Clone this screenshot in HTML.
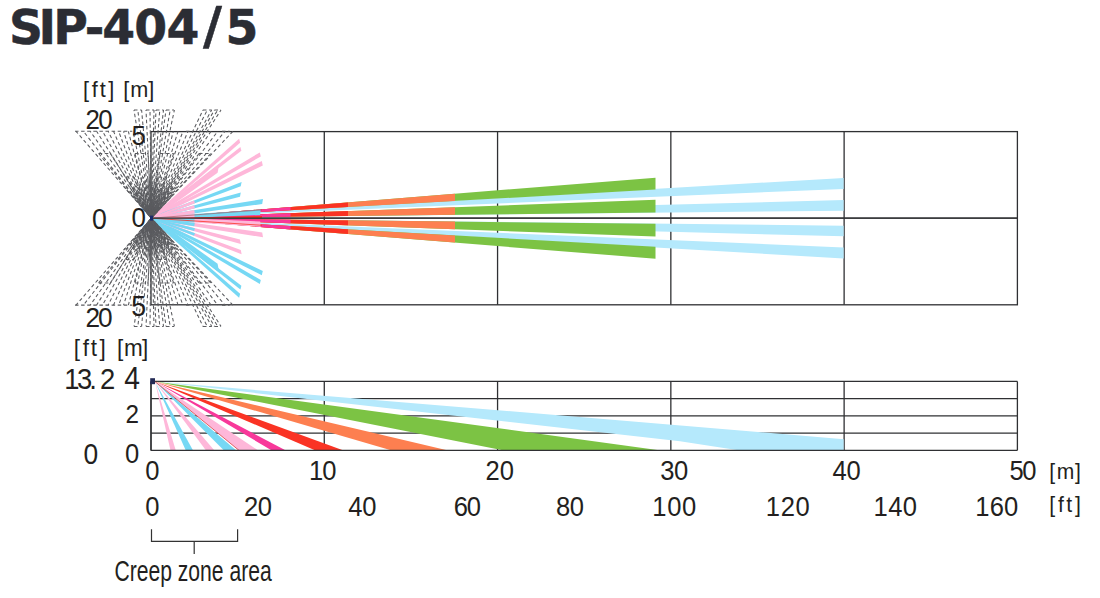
<!DOCTYPE html>
<html><head><meta charset="utf-8"><title>SIP-404/5</title>
<style>html,body{margin:0;padding:0;background:#fff;width:1100px;height:598px;overflow:hidden}</style>
</head><body>
<svg width="1100" height="598" viewBox="0 0 1100 598" style="display:block;font-family:'Liberation Sans', Arial, sans-serif">
<rect width="1100" height="598" fill="#ffffff"/>
<g stroke="#2f3033" stroke-width="1.3" fill="none">
<rect x="151" y="131.6" width="866.4" height="173.2"/>
<line x1="324.28" y1="131.6" x2="324.28" y2="304.8"/>
<line x1="497.56" y1="131.6" x2="497.56" y2="304.8"/>
<line x1="670.84" y1="131.6" x2="670.84" y2="304.8"/>
<line x1="844.12" y1="131.6" x2="844.12" y2="304.8"/>
<line x1="151" y1="218.2" x2="1017.4" y2="218.2"/>
</g>
<polygon points="151.3,218.2 843.6,177.91 843.6,188.92 151.3,218.2" fill="#b5e9fc"/>
<polygon points="151.3,218.2 843.6,200.06 843.6,210.72 151.3,218.2" fill="#b5e9fc"/>
<polygon points="151.3,218.2 843.6,225.68 843.6,236.34 151.3,218.2" fill="#b5e9fc"/>
<polygon points="151.3,218.2 843.6,247.48 843.6,258.49 151.3,218.2" fill="#b5e9fc"/>
<polygon points="151.3,218.2 655.5,177.66 655.5,189.56 151.3,218.2" fill="#7cc344"/>
<polygon points="151.3,218.2 655.5,199.85 655.5,212.6 151.3,218.2" fill="#7cc344"/>
<polygon points="151.3,218.2 655.5,223.8 655.5,236.55 151.3,218.2" fill="#7cc344"/>
<polygon points="151.3,218.2 655.5,246.84 655.5,258.74 151.3,218.2" fill="#7cc344"/>
<polygon points="151.3,218.2 455,193.78 455,200.95 151.3,218.2" fill="#fd7f50"/>
<polygon points="151.3,218.2 455,207.15 455,214.83 151.3,218.2" fill="#fd7f50"/>
<polygon points="151.3,218.2 455,221.57 455,229.25 151.3,218.2" fill="#fd7f50"/>
<polygon points="151.3,218.2 455,235.45 455,242.62 151.3,218.2" fill="#fd7f50"/>
<polygon points="151.3,218.2 348,202.39 348,207.03 151.3,218.2" fill="#fa3324"/>
<polygon points="151.3,218.2 348,211.04 348,216.02 151.3,218.2" fill="#fa3324"/>
<polygon points="151.3,218.2 348,220.38 348,225.36 151.3,218.2" fill="#fa3324"/>
<polygon points="151.3,218.2 348,229.37 348,234.01 151.3,218.2" fill="#fa3324"/>
<polygon points="151.3,218.2 290.5,207.01 290.5,210.29 151.3,218.2" fill="#f8389a"/>
<polygon points="151.3,218.2 290.5,213.13 290.5,216.65 151.3,218.2" fill="#f8389a"/>
<polygon points="151.3,218.2 290.5,219.75 290.5,223.27 151.3,218.2" fill="#f8389a"/>
<polygon points="151.3,218.2 290.5,226.11 290.5,229.39 151.3,218.2" fill="#f8389a"/>
<polygon points="151.11,216.91 263,199.1 262.2,204 151.49,219.49" fill="#76d8f4"/>
<polygon points="151.49,216.91 262.2,232.4 263,237.3 151.11,219.49" fill="#feb7d9"/>
<polygon points="150.78,217.14 261.8,161.1 262.8,165.4 151.82,219.26" fill="#feb7d9"/>
<polygon points="151.82,217.14 262.8,271 261.8,275.3 150.78,219.26" fill="#76d8f4"/>
<polygon points="151.22,216.75 260.6,209.6 260.2,214.9 151.38,219.65" fill="#76d8f4"/>
<polygon points="151.38,216.75 260.2,221.5 260.6,226.8 151.22,219.65" fill="#feb7d9"/>
<polygon points="150.75,217.26 259.8,152.4 260.8,156.4 151.85,219.14" fill="#feb7d9"/>
<polygon points="151.85,217.26 260.8,280 259.8,284 150.75,219.14" fill="#76d8f4"/>
<polygon points="150.95,217.26 241.6,182.1 240.8,186.3 151.65,219.14" fill="#76d8f4"/>
<polygon points="151.65,217.26 240.8,250.1 241.6,254.3 150.95,219.14" fill="#feb7d9"/>
<polygon points="151.02,217.15 240.8,192.5 240,196.8 151.58,219.25" fill="#76d8f4"/>
<polygon points="151.58,217.15 240,239.6 240.8,243.9 151.02,219.25" fill="#feb7d9"/>
<polygon points="150.7,217.43 240.4,147 241.4,150.7 151.9,218.97" fill="#feb7d9"/>
<polygon points="151.9,217.43 241.4,285.7 240.4,289.4 150.7,218.97" fill="#76d8f4"/>
<polygon points="150.63,217.44 239.1,138.7 240.1,142.7 151.97,218.96" fill="#feb7d9"/>
<polygon points="151.97,217.44 240.1,293.7 239.1,297.7 150.63,218.96" fill="#76d8f4"/>
<polygon points="151.03,217.48 194.01,200.56 194.99,203.17 151.57,218.92" fill="#feb7d9"/>
<polygon points="151.57,217.48 194.99,233.23 194.01,235.84 151.03,218.92" fill="#76d8f4"/>
<polygon points="151.09,217.39 194.11,205.31 194.89,208.25 151.51,219.01" fill="#feb7d9"/>
<polygon points="151.51,217.39 194.89,228.15 194.11,231.09 151.09,219.01" fill="#76d8f4"/>
<polygon points="151.16,217.27 194.25,210.04 194.75,213.43 151.44,219.13" fill="#feb7d9"/>
<polygon points="151.44,217.27 194.75,222.97 194.25,226.36 151.16,219.13" fill="#76d8f4"/>
<polygon points="151.24,217.15 194.4,213.93 194.6,217.76 151.36,219.25" fill="#feb7d9"/>
<polygon points="151.36,217.15 194.6,218.64 194.4,222.47 151.24,219.25" fill="#76d8f4"/>
<polygon points="150.3,216.86 219.2,163.95 217.6,172.72 152.3,219.54" fill="#feb7d9"/>
<polygon points="152.3,216.86 217.6,263.68 219.2,272.45 150.3,219.54" fill="#76d8f4"/>
<polygon points="151.3,218.2 262,215.88 262,217.98 151.3,218.2" fill="#fa3324"/>
<line x1="151.3" y1="218.2" x2="262" y2="225.28" stroke="#fa3324" stroke-width="0.8"/>
<line x1="151.3" y1="218.2" x2="262" y2="209.9" stroke="#a05050" stroke-width="0.6"/>
<line x1="151" y1="218.2" x2="1017.4" y2="218.2" stroke="#2f3033" stroke-width="1.2"/>
<g fill="none" stroke="#5a5b5f" stroke-width="1.05" stroke-dasharray="3.5 2.6">
<path d="M232.9 131.3L151.3 218.2" stroke-dashoffset="0"/><path d="M232.9 305.1L151.3 218.2" stroke-dashoffset="0"/><path d="M225 131.3L151.3 218.2" stroke-dashoffset="1.7"/><path d="M225 305.1L151.3 218.2" stroke-dashoffset="1.7"/><path d="M217.74 131.3L151.3 218.2" stroke-dashoffset="3.4"/><path d="M217.74 305.1L151.3 218.2" stroke-dashoffset="3.4"/><path d="M211.02 131.3L151.3 218.2" stroke-dashoffset="0.1"/><path d="M211.02 305.1L151.3 218.2" stroke-dashoffset="0.1"/><path d="M188.01 131.3L151.3 218.2" stroke-dashoffset="1.8"/><path d="M188.01 305.1L151.3 218.2" stroke-dashoffset="1.8"/><path d="M182.93 131.3L151.3 218.2" stroke-dashoffset="3.5"/><path d="M182.93 305.1L151.3 218.2" stroke-dashoffset="3.5"/><path d="M178.03 131.3L151.3 218.2" stroke-dashoffset="0.2"/><path d="M178.03 305.1L151.3 218.2" stroke-dashoffset="0.2"/><path d="M173.29 131.3L151.3 218.2" stroke-dashoffset="1.9"/><path d="M173.29 305.1L151.3 218.2" stroke-dashoffset="1.9"/><path d="M132.99 131.3L151.3 218.2" stroke-dashoffset="3.6"/><path d="M132.99 305.1L151.3 218.2" stroke-dashoffset="3.6"/><path d="M128.34 131.3L151.3 218.2" stroke-dashoffset="0.3"/><path d="M128.34 305.1L151.3 218.2" stroke-dashoffset="0.3"/><path d="M123.57 131.3L151.3 218.2" stroke-dashoffset="2"/><path d="M123.57 305.1L151.3 218.2" stroke-dashoffset="2"/><path d="M118.64 131.3L151.3 218.2" stroke-dashoffset="3.7"/><path d="M118.64 305.1L151.3 218.2" stroke-dashoffset="3.7"/><path d="M113.51 131.3L151.3 218.2" stroke-dashoffset="0.4"/><path d="M113.51 305.1L151.3 218.2" stroke-dashoffset="0.4"/><path d="M108.16 131.3L151.3 218.2" stroke-dashoffset="2.1"/><path d="M108.16 305.1L151.3 218.2" stroke-dashoffset="2.1"/><path d="M102.53 131.3L151.3 218.2" stroke-dashoffset="3.8"/><path d="M102.53 305.1L151.3 218.2" stroke-dashoffset="3.8"/><path d="M96.58 131.3L151.3 218.2" stroke-dashoffset="0.5"/><path d="M96.58 305.1L151.3 218.2" stroke-dashoffset="0.5"/><path d="M90.23 131.3L151.3 218.2" stroke-dashoffset="2.2"/><path d="M90.23 305.1L151.3 218.2" stroke-dashoffset="2.2"/><path d="M83.41 131.3L151.3 218.2" stroke-dashoffset="3.9"/><path d="M83.41 305.1L151.3 218.2" stroke-dashoffset="3.9"/><path d="M76.02 131.3L151.3 218.2" stroke-dashoffset="0.6"/><path d="M76.02 305.1L151.3 218.2" stroke-dashoffset="0.6"/><path d="M134 110L151.3 218.2" stroke-dashoffset="2.3"/><path d="M134 326.4L151.3 218.2" stroke-dashoffset="2.3"/><path d="M137.8 110L151.3 218.2" stroke-dashoffset="4"/><path d="M137.8 326.4L151.3 218.2" stroke-dashoffset="4"/><path d="M141.6 110L151.3 218.2" stroke-dashoffset="0.7"/><path d="M141.6 326.4L151.3 218.2" stroke-dashoffset="0.7"/><path d="M146 110L151.3 218.2" stroke-dashoffset="2.4"/><path d="M146 326.4L151.3 218.2" stroke-dashoffset="2.4"/><path d="M150 110L151.3 218.2" stroke-dashoffset="4.1"/><path d="M150 326.4L151.3 218.2" stroke-dashoffset="4.1"/><path d="M154 110L151.3 218.2" stroke-dashoffset="0.8"/><path d="M154 326.4L151.3 218.2" stroke-dashoffset="0.8"/><path d="M156 110L151.3 218.2" stroke-dashoffset="2.5"/><path d="M156 326.4L151.3 218.2" stroke-dashoffset="2.5"/><path d="M159.75 110L151.3 218.2" stroke-dashoffset="4.2"/><path d="M159.75 326.4L151.3 218.2" stroke-dashoffset="4.2"/><path d="M163.5 110L151.3 218.2" stroke-dashoffset="0.9"/><path d="M163.5 326.4L151.3 218.2" stroke-dashoffset="0.9"/><path d="M166 110L151.3 218.2" stroke-dashoffset="2.6"/><path d="M166 326.4L151.3 218.2" stroke-dashoffset="2.6"/><path d="M170.2 110L151.3 218.2" stroke-dashoffset="4.3"/><path d="M170.2 326.4L151.3 218.2" stroke-dashoffset="4.3"/><path d="M174.4 110L151.3 218.2" stroke-dashoffset="1"/><path d="M174.4 326.4L151.3 218.2" stroke-dashoffset="1"/><path d="M203 110L151.3 218.2" stroke-dashoffset="2.7"/><path d="M203 326.4L151.3 218.2" stroke-dashoffset="2.7"/><path d="M207.3 110L151.3 218.2" stroke-dashoffset="4.4"/><path d="M207.3 326.4L151.3 218.2" stroke-dashoffset="4.4"/><path d="M211.7 110L151.3 218.2" stroke-dashoffset="1.1"/><path d="M211.7 326.4L151.3 218.2" stroke-dashoffset="1.1"/><path d="M214.5 110L151.3 218.2" stroke-dashoffset="2.8"/><path d="M214.5 326.4L151.3 218.2" stroke-dashoffset="2.8"/><path d="M217.75 110L151.3 218.2" stroke-dashoffset="4.5"/><path d="M217.75 326.4L151.3 218.2" stroke-dashoffset="4.5"/><path d="M221 110L151.3 218.2" stroke-dashoffset="1.2"/><path d="M221 326.4L151.3 218.2" stroke-dashoffset="1.2"/><path d="M171.76 196.26L151.3 218.2" stroke-dashoffset="0"/><path d="M171.76 240.14L151.3 218.2" stroke-dashoffset="0"/><path d="M174.92 191.03L151.3 218.2" stroke-dashoffset="2.3"/><path d="M174.92 245.37L151.3 218.2" stroke-dashoffset="2.3"/><path d="M177.73 185.56L151.3 218.2" stroke-dashoffset="4.6"/><path d="M177.73 250.84L151.3 218.2" stroke-dashoffset="4.6"/><path d="M171.16 191.85L151.3 218.2" stroke-dashoffset="1.9"/><path d="M171.16 244.55L151.3 218.2" stroke-dashoffset="1.9"/><path d="M173.67 186.25L151.3 218.2" stroke-dashoffset="4.2"/><path d="M173.67 250.15L151.3 218.2" stroke-dashoffset="4.2"/><path d="M167.64 193.04L151.3 218.2" stroke-dashoffset="1.5"/><path d="M167.64 243.36L151.3 218.2" stroke-dashoffset="1.5"/><path d="M169.84 187.34L151.3 218.2" stroke-dashoffset="3.8"/><path d="M169.84 249.06L151.3 218.2" stroke-dashoffset="3.8"/><path d="M171.66 181.47L151.3 218.2" stroke-dashoffset="1.1"/><path d="M171.66 254.93L151.3 218.2" stroke-dashoffset="1.1"/><path d="M166.28 188.8L151.3 218.2" stroke-dashoffset="3.4"/><path d="M166.28 247.6L151.3 218.2" stroke-dashoffset="3.4"/><path d="M167.78 182.85L151.3 218.2" stroke-dashoffset="0.7"/><path d="M167.78 253.55L151.3 218.2" stroke-dashoffset="0.7"/><path d="M163.02 190.58L151.3 218.2" stroke-dashoffset="3"/><path d="M163.02 245.82L151.3 218.2" stroke-dashoffset="3"/><path d="M164.2 184.59L151.3 218.2" stroke-dashoffset="0.3"/><path d="M164.2 251.81L151.3 218.2" stroke-dashoffset="0.3"/><path d="M164.97 178.49L151.3 218.2" stroke-dashoffset="2.6"/><path d="M164.97 257.91L151.3 218.2" stroke-dashoffset="2.6"/><path d="M160.95 186.64L151.3 218.2" stroke-dashoffset="4.9"/><path d="M160.95 249.76L151.3 218.2" stroke-dashoffset="4.9"/><path d="M161.39 180.53L151.3 218.2" stroke-dashoffset="2.2"/><path d="M161.39 255.87L151.3 218.2" stroke-dashoffset="2.2"/><path d="M158.05 188.97L151.3 218.2" stroke-dashoffset="4.5"/><path d="M158.05 247.43L151.3 218.2" stroke-dashoffset="4.5"/><path d="M158.17 182.86L151.3 218.2" stroke-dashoffset="1.8"/><path d="M158.17 253.54L151.3 218.2" stroke-dashoffset="1.8"/><path d="M157.87 176.72L151.3 218.2" stroke-dashoffset="4.1"/><path d="M157.87 259.68L151.3 218.2" stroke-dashoffset="4.1"/><path d="M155.32 185.45L151.3 218.2" stroke-dashoffset="1.4"/><path d="M155.32 250.95L151.3 218.2" stroke-dashoffset="1.4"/><path d="M154.7 179.35L151.3 218.2" stroke-dashoffset="3.7"/><path d="M154.7 257.05L151.3 218.2" stroke-dashoffset="3.7"/><path d="M152.87 188.24L151.3 218.2" stroke-dashoffset="1"/><path d="M152.87 248.16L151.3 218.2" stroke-dashoffset="1"/><path d="M151.93 182.21L151.3 218.2" stroke-dashoffset="3.3"/><path d="M151.93 254.19L151.3 218.2" stroke-dashoffset="3.3"/><path d="M150.57 176.21L151.3 218.2" stroke-dashoffset="0.6"/><path d="M150.57 260.19L151.3 218.2" stroke-dashoffset="0.6"/><path d="M149.57 185.25L151.3 218.2" stroke-dashoffset="2.9"/><path d="M149.57 251.15L151.3 218.2" stroke-dashoffset="2.9"/><path d="M147.9 179.35L151.3 218.2" stroke-dashoffset="0.2"/><path d="M147.9 257.05L151.3 218.2" stroke-dashoffset="0.2"/><path d="M147.64 188.42L151.3 218.2" stroke-dashoffset="2.5"/><path d="M147.64 247.98L151.3 218.2" stroke-dashoffset="2.5"/><path d="M145.67 182.64L151.3 218.2" stroke-dashoffset="4.8"/><path d="M145.67 253.76L151.3 218.2" stroke-dashoffset="4.8"/><path d="M143.29 176.97L151.3 218.2" stroke-dashoffset="2.1"/><path d="M143.29 259.43L151.3 218.2" stroke-dashoffset="2.1"/><path d="M143.88 186.05L151.3 218.2" stroke-dashoffset="4.4"/><path d="M143.88 250.35L151.3 218.2" stroke-dashoffset="4.4"/><path d="M141.21 180.53L151.3 218.2" stroke-dashoffset="1.7"/><path d="M141.21 255.87L151.3 218.2" stroke-dashoffset="1.7"/><path d="M142.53 189.51L151.3 218.2" stroke-dashoffset="4"/><path d="M142.53 246.89L151.3 218.2" stroke-dashoffset="4"/><path d="M139.58 184.16L151.3 218.2" stroke-dashoffset="1.3"/><path d="M139.58 252.24L151.3 218.2" stroke-dashoffset="1.3"/><path d="M136.25 178.99L151.3 218.2" stroke-dashoffset="3.6"/><path d="M136.25 257.41L151.3 218.2" stroke-dashoffset="3.6"/><path d="M138.41 187.82L151.3 218.2" stroke-dashoffset="0.9"/><path d="M138.41 248.58L151.3 218.2" stroke-dashoffset="0.9"/><path d="M134.82 182.85L151.3 218.2" stroke-dashoffset="3.2"/><path d="M134.82 253.55L151.3 218.2" stroke-dashoffset="3.2"/><path d="M137.68 191.47L151.3 218.2" stroke-dashoffset="0.5"/><path d="M137.68 244.93L151.3 218.2" stroke-dashoffset="0.5"/><path d="M133.85 186.71L151.3 218.2" stroke-dashoffset="2.8"/><path d="M133.85 249.69L151.3 218.2" stroke-dashoffset="2.8"/><path d="M129.67 182.2L151.3 218.2" stroke-dashoffset="0.1"/><path d="M129.67 254.2L151.3 218.2" stroke-dashoffset="0.1"/><path d="M133.33 190.52L151.3 218.2" stroke-dashoffset="2.4"/><path d="M133.33 245.88L151.3 218.2" stroke-dashoffset="2.4"/><path d="M128.93 186.25L151.3 218.2" stroke-dashoffset="4.7"/><path d="M128.93 250.15L151.3 218.2" stroke-dashoffset="4.7"/><path d="M133.25 194.24L151.3 218.2" stroke-dashoffset="2"/><path d="M133.25 242.16L151.3 218.2" stroke-dashoffset="2"/><path d="M128.64 190.22L151.3 218.2" stroke-dashoffset="4.3"/><path d="M128.64 246.18L151.3 218.2" stroke-dashoffset="4.3"/><path d="M123.75 186.5L151.3 218.2" stroke-dashoffset="1.6"/><path d="M123.75 249.9L151.3 218.2" stroke-dashoffset="1.6"/><path d="M98.7 153.5L151.3 218.2"/><path d="M98.7 282.9L151.3 218.2"/><path d="M110.4 153.5L151.3 218.2"/><path d="M110.4 282.9L151.3 218.2"/><path d="M135 153.5L151.3 218.2"/><path d="M135 282.9L151.3 218.2"/><path d="M148 153.5L151.3 218.2"/><path d="M148 282.9L151.3 218.2"/><path d="M160 153.5L151.3 218.2"/><path d="M160 282.9L151.3 218.2"/><path d="M173.6 153.5L151.3 218.2"/><path d="M173.6 282.9L151.3 218.2"/><path d="M199 153.5L151.3 218.2"/><path d="M199 282.9L151.3 218.2"/><path d="M210.7 153.5L151.3 218.2"/><path d="M210.7 282.9L151.3 218.2"/><path d="M126 177L151.3 218.2"/><path d="M126 259.4L151.3 218.2"/><path d="M134 177L151.3 218.2"/><path d="M134 259.4L151.3 218.2"/><path d="M158 177L151.3 218.2"/><path d="M158 259.4L151.3 218.2"/><path d="M167 177L151.3 218.2"/><path d="M167 259.4L151.3 218.2"/><path d="M134 110H141.6"/><path d="M134 326.4H141.6"/><path d="M146 110H154"/><path d="M146 326.4H154"/><path d="M156 110H163.5"/><path d="M156 326.4H163.5"/><path d="M166 110H174"/><path d="M166 326.4H174"/><path d="M203 110H211.7"/><path d="M203 326.4H211.7"/><path d="M214.5 110H221"/><path d="M214.5 326.4H221"/><path d="M75 131.3H132.3"/><path d="M75 305.1H132.3"/><path d="M186 131.3H190"/><path d="M186 305.1H190"/><path d="M222 131.3H229.6"/><path d="M222 305.1H229.6"/><path d="M98.7 153.5H110.4"/><path d="M98.7 282.9H110.4"/><path d="M135 153.5H148"/><path d="M135 282.9H148"/><path d="M160 153.5H173.6"/><path d="M160 282.9H173.6"/><path d="M199 153.5H210.7"/><path d="M199 282.9H210.7"/><path d="M126 177H134"/><path d="M126 259.4H134"/><path d="M158 177H167"/><path d="M158 259.4H167"/>
</g>
<rect x="150" y="215.6" width="3" height="5" fill="#1b2a6b"/>
<g stroke="#2f3033" stroke-width="1.3" fill="none">
<line x1="151" y1="381.4" x2="1017.4" y2="381.4"/>
<line x1="151" y1="398.65" x2="1017.4" y2="398.65"/>
<line x1="151" y1="415.9" x2="1017.4" y2="415.9"/>
<line x1="151" y1="433.15" x2="1017.4" y2="433.15"/>
<line x1="151" y1="381.4" x2="151" y2="450.4"/>
<line x1="324.28" y1="381.4" x2="324.28" y2="450.4"/>
<line x1="497.56" y1="381.4" x2="497.56" y2="450.4"/>
<line x1="670.84" y1="381.4" x2="670.84" y2="450.4"/>
<line x1="844.12" y1="381.4" x2="844.12" y2="450.4"/>
<line x1="1017.4" y1="381.4" x2="1017.4" y2="450.4"/>
</g>
<clipPath id="cb"><rect x="151" y="381.4" width="692.6" height="69"/></clipPath>
<g clip-path="url(#cb)">
<polygon points="155,381.6 978,450.4 740,450.4 680,441.3 510,422.1" fill="#b5e9fc"/>
<polygon points="155,381.6 661,450.4 504,450.4" fill="#7cc344"/>
<polygon points="155,381.6 448.2,450.4 391.8,450.4" fill="#fd7f50"/>
<polygon points="155,381.6 343.6,450.4 315.5,450.4" fill="#fa3324"/>
<polygon points="155,381.6 285.9,450.4 271.8,450.4" fill="#f8389a"/>
<polygon points="155,381.6 258.2,450.4 239,450.4" fill="#feb7d9"/>
<polygon points="155,381.6 236.4,450.4 224,450.4" fill="#76d8f4"/>
<polygon points="155,381.6 214.5,450.4 206,450.4" fill="#feb7d9"/>
<polygon points="155,381.6 193.1,450.4 185.8,450.4" fill="#76d8f4"/>
<polygon points="155,381.6 175.8,450.4 170.5,450.4" fill="#feb7d9"/>
<line x1="155" y1="381.6" x2="239" y2="450.4" stroke="#d0342c" stroke-width="0.7"/>
</g>
<line x1="151" y1="450.4" x2="1017.4" y2="450.4" stroke="#2f3033" stroke-width="1.4"/>
<line x1="151" y1="381.4" x2="151" y2="450.4" stroke="#2f3033" stroke-width="1.3"/>
<rect x="150.2" y="378.2" width="4.8" height="6" fill="#232a55"/>
<path d="M151.5 529.2V541.4H237.6V529.2M194.2 541.4V554" fill="none" stroke="#333" stroke-width="1.2"/>
<text transform="translate(0,44)" font-family="'DejaVu Sans', sans-serif" font-size="47.26" font-weight="bold" fill="#2b2d34" stroke="#2b2d34" stroke-width="0.5" stroke-linejoin="round"><tspan x="8.89 38.5 53.25 84.69 102.33 134.28 166.48">SIP-404</tspan><tspan x="202.96" font-size="52">/</tspan><tspan x="225.4">5</tspan></text>
<text transform="translate(0,96.86) scale(0.9500,1)" x="87.3 96.48 104.96 114.02" font-size="22.84" fill="#231f20">[ft]</text>
<text transform="translate(0,96.86) scale(0.9500,1)" x="129.82 137.21 156.03" font-size="22.84" fill="#231f20">[m]</text>
<text transform="translate(0,129.42) scale(0.9200,1)" x="92.85 106.72" font-size="28.13" fill="#231f20">20</text>
<text transform="translate(0,144.82) scale(0.9200,1)" x="142.96" font-size="28.1" fill="#231f20">5</text>
<text transform="translate(0,229.21) scale(0.9200,1)" x="99.91" font-size="28.98" fill="#231f20">0</text>
<text transform="translate(0,227.02) scale(0.9200,1)" x="143.04" font-size="28.27" fill="#231f20">0</text>
<text transform="translate(0,315.51) scale(0.9200,1)" x="142.74" font-size="29.1" fill="#231f20">5</text>
<text transform="translate(0,327.41) scale(0.9200,1)" x="93.06 106.5" font-size="28.55" fill="#231f20">20</text>
<text transform="translate(0,355.88) scale(0.9500,1)" x="77.7 86.99 95.57 104.74" font-size="23.7" fill="#231f20">[ft]</text>
<text transform="translate(0,355.88) scale(0.9500,1)" x="123.25 130.43 149.51" font-size="23.7" fill="#231f20">[m]</text>
<text transform="translate(0,389.3) scale(0.9200,1)" x="135.15" font-size="30.69" fill="#231f20">4</text>
<text transform="translate(0,423.4) scale(0.9200,1)" x="136.43" font-size="26.38" fill="#231f20">2</text>
<text transform="translate(0,462.72) scale(0.9200,1)" x="135.99" font-size="27.84" fill="#231f20">0</text>
<text transform="translate(0,463.61) scale(0.9200,1)" x="90.7" font-size="28.69" fill="#231f20">0</text>
<text transform="translate(0,479.72) scale(0.9200,1)" x="157.84" font-size="27.84" fill="#231f20">0</text>
<text transform="translate(0,479.72) scale(0.9200,1)" x="335.91 350.39" font-size="27.84" fill="#231f20">10</text>
<text transform="translate(0,479.72) scale(0.9200,1)" x="527.82 543.11" font-size="27.84" fill="#231f20">20</text>
<text transform="translate(0,479.72) scale(0.9200,1)" x="717.56 732.56" font-size="27.84" fill="#231f20">30</text>
<text transform="translate(0,479.72) scale(0.9200,1)" x="904.95 920.06" font-size="27.84" fill="#231f20">40</text>
<text transform="translate(0,479.72) scale(0.9200,1)" x="1097.16 1111.26" font-size="27.84" fill="#231f20">50</text>
<text transform="translate(0,478.79) scale(0.9500,1)" x="1104.43 1112.45 1131.49" font-size="22.2" fill="#231f20">[m]</text>
<text transform="translate(0,516.02) scale(0.9200,1)" x="157.84" font-size="27.84" fill="#231f20">0</text>
<text transform="translate(0,516.02) scale(0.9200,1)" x="265.21 280.17" font-size="27.84" fill="#231f20">20</text>
<text transform="translate(0,516.02) scale(0.9200,1)" x="378.65 393.65" font-size="27.84" fill="#231f20">40</text>
<text transform="translate(0,516.02) scale(0.9200,1)" x="493.15 507.46" font-size="27.84" fill="#231f20">60</text>
<text transform="translate(0,516.02) scale(0.9200,1)" x="604.34 619.19" font-size="27.84" fill="#231f20">80</text>
<text transform="translate(0,516.02) scale(0.9200,1)" x="708.85 725.23 741.26" font-size="27.84" fill="#231f20">100</text>
<text transform="translate(0,516.02) scale(0.9200,1)" x="832.43 848.79 864.74" font-size="27.84" fill="#231f20">120</text>
<text transform="translate(0,516.02) scale(0.9200,1)" x="949.39 965.6 981.26" font-size="27.84" fill="#231f20">140</text>
<text transform="translate(0,516.02) scale(0.9200,1)" x="1059.93 1075.7 1091.26" font-size="27.84" fill="#231f20">160</text>
<text transform="translate(0,512.17) scale(0.9500,1)" x="1104.38 1113.7 1122.33 1131.51" font-size="22.31" fill="#231f20">[ft]</text>
<text transform="translate(0,389) scale(0.9200,1)" x="69.9 83.81 96.91 108.63" font-size="29.82" fill="#231f20">13.2</text>
<text transform="translate(114.44,580.77) scale(0.7270,1)" font-size="29.06" fill="#231f20">Creep zone area</text>
</svg>
</body></html>
